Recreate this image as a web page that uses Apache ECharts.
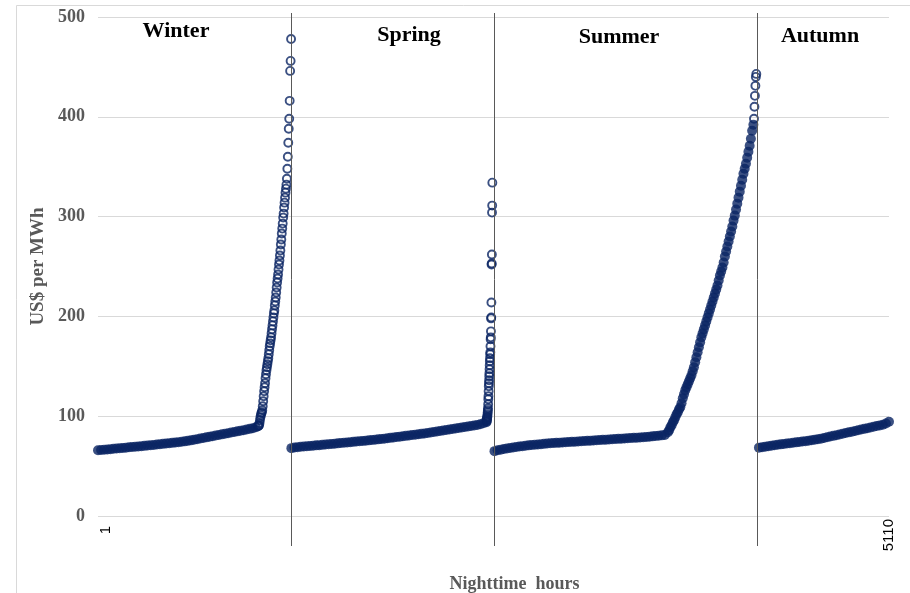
<!DOCTYPE html>
<html>
<head>
<meta charset="utf-8">
<script src="https://cdn.jsdelivr.net/npm/echarts@6/dist/echarts.min.js"></script>
<style>
  html, body { margin: 0; padding: 0; background: #fff; }
  #chart { width: 910px; height: 593px; }
</style>
</head>
<body>
<div id="chart"></div>
<script>
// Seasons and the last nighttime hour of each of the first three
const seasonNames = ['Winter', 'Spring', 'Summer', 'Autumn'];
const seasonBounds = [1249, 2561, 4256];
const xTickLabels = [1, 5110];
const yMin = 0, yMax = 500, yStep = 100;

// Sorted nighttime prices (US$ per MWh) per season.
// "Base" arrays are sampled every 20 h; peak arrays use finer hour steps.
const winterStart = 1, winterBaseStep = 20;
const winterBase = [
  65.8, 66.1, 66.4, 66.7, 67.0, 67.3, 67.6, 67.9, 68.2, 68.5,
  68.8, 69.1, 69.4, 69.7, 70.0, 70.3, 70.6, 70.9, 71.2, 71.6,
  72.0, 72.3, 72.6, 73.0, 73.3, 73.7, 74.0, 74.4, 74.8, 75.3,
  75.8, 76.4, 77.0, 77.6, 78.2, 78.8, 79.4, 80.0, 80.6, 81.2,
  81.8, 82.4, 83.0, 83.6, 84.2, 84.8, 85.4, 86.0, 86.6, 87.3,
  88.0, 89.0
];
const winterPeakStart = 1035, winterPeakStep = 3;
const winterPeak = [
  90, 90.5, 91, 93, 96, 99, 101, 103, 104, 106,
  110, 115, 120, 125, 129, 133, 138, 142, 146, 149,
  152, 155, 158, 162, 166, 170, 173, 176, 179, 183,
  187, 191, 195, 199, 203, 206, 211, 215, 219, 224,
  229, 234, 238, 242, 247, 252, 256, 261, 266, 272,
  277, 283, 288, 293, 299, 303, 309, 314, 319, 324,
  328, 332, 338, 348, 360, 374, 388, 398, 416, 446,
  456, 478
];

const springStart = 1250, springBaseStep = 20;
const springBase = [
  68.0, 68.6, 69.0, 69.3, 69.6, 69.9, 70.2, 70.5, 70.8, 71.0,
  71.3, 71.6, 71.9, 72.2, 72.5, 72.8, 73.1, 73.4, 73.7, 74.0,
  74.3, 74.6, 74.9, 75.2, 75.5, 75.8, 76.1, 76.4, 76.8, 77.1,
  77.5, 77.9, 78.3, 78.7, 79.1, 79.5, 79.9, 80.3, 80.7, 81.1,
  81.5, 81.9, 82.3, 82.7, 83.1, 83.6, 84.1, 84.6, 85.1, 85.6,
  86.1, 86.6, 87.1, 87.6, 88.1, 88.6, 89.1, 89.6, 90.1, 90.7,
  91.3, 92.0, 92.9, 94.0
];
const springPeakStart = 2511, springPeakStep = 1;
const springPeak = [
  95, 96, 97, 98, 99, 100, 102, 104, 106, 108,
  112, 117, 120, 125, 130, 133, 136, 140, 143, 147,
  151, 155, 158, 162, 164, 170, 177, 179, 185, 198,
  199, 214, 252, 253, 262, 304, 311, 334
];

const summerStart = 2562, summerBaseStep = 20;
const summerBase = [
  65.0, 65.8, 66.5, 67.1, 67.7, 68.2, 68.7, 69.2, 69.6, 70.0,
  70.4, 70.8, 71.1, 71.4, 71.7, 72.0, 72.3, 72.6, 72.9, 73.1,
  73.3, 73.5, 73.7, 73.9, 74.1, 74.3, 74.5, 74.7, 74.9, 75.1,
  75.3, 75.5, 75.7, 75.9, 76.1, 76.3, 76.5, 76.7, 76.9, 77.1,
  77.3, 77.5, 77.7, 77.9, 78.1, 78.3, 78.5, 78.7, 78.9, 79.2,
  79.5, 79.8, 80.1, 80.4, 80.8, 81.2
];
const summerPeakStart = 3682, summerPeakStep = 8;
const summerPeak = [
  84, 86, 89, 91, 94, 96, 99, 102, 104, 107,
  109, 113, 118, 122, 126, 129, 132, 135, 138, 141,
  145, 149, 154, 159, 164, 169, 174, 179, 183, 187,
  191, 195, 199, 203, 207, 211, 215, 219, 223, 227,
  231, 236, 241, 245, 249, 254, 260, 265, 270, 275,
  280, 285, 290, 296, 301, 307, 313, 319, 325, 331,
  337, 343, 348, 353, 359, 365, 371, 378, 386, 392
];
const summerTopStart = 4238, summerTopStep = 3;
const summerTop = [398, 410, 421, 431, 440, 443];

const autumnStart = 4270, autumnBaseStep = 20;
const autumnBase = [
  68.5, 69.0, 69.5, 70.0, 70.5, 71.0, 71.4, 71.8, 72.2, 72.6,
  73.0, 73.4, 73.8, 74.2, 74.6, 75.0, 75.5, 76.0, 76.5, 77.0,
  77.5, 78.2, 78.9, 79.6, 80.3, 81.0, 81.7, 82.4, 83.1, 83.8,
  84.5, 85.2, 85.9, 86.6, 87.3, 88.0, 88.7, 89.4, 90.1, 90.8,
  91.5, 92.6, 94.5
];

// Pair each price with its hour index on the x axis
function toPoints(start, step, values) {
  return values.map((v, i) => [start + i * step, v]);
}

const serif = '"Liberation Serif", "Times New Roman", serif';
const sans = '"Liberation Sans", Arial, sans-serif';
const gray = '#595959';
const navy = '#0a2463';

// Dense stretches: the overlapping markers merge into a solid band
const denseStyle = { color: navy, borderColor: navy, borderWidth: 0 };
// Sparse stretches: individual hollow markers
const hollowStyle = { color: 'rgba(255,255,255,0)', borderColor: navy, borderWidth: 1.9 };

const parts = [
  { data: toPoints(winterStart, winterBaseStep, winterBase), dense: true },
  { data: toPoints(winterPeakStart, winterPeakStep, winterPeak), dense: false },
  { data: toPoints(springStart, springBaseStep, springBase), dense: true },
  { data: toPoints(springPeakStart, springPeakStep, springPeak), dense: false },
  { data: toPoints(summerStart, summerBaseStep, summerBase), dense: true },
  { data: toPoints(summerPeakStart, summerPeakStep, summerPeak), dense: true },
  { data: toPoints(summerTopStart, summerTopStep, summerTop), dense: false },
  { data: toPoints(autumnStart, autumnBaseStep, autumnBase), dense: true }
];

const chart = echarts.init(document.getElementById('chart'), null, { renderer: 'canvas' });

const option = {
  animation: false,
  backgroundColor: '#fff',
  grid: { left: 98, right: 21, top: 17, bottom: 77, outerBoundsMode: 'none' },
  xAxis: {
    type: 'value',
    min: xTickLabels[0],
    max: xTickLabels[1],
    name: 'Nighttime  hours',
    nameLocation: 'middle',
    nameGap: 59,
    nameTextStyle: {
      fontFamily: serif, fontWeight: 'bold', fontSize: 18, color: gray,
      padding: [0, 0, 0, 42]
    },
    axisLine: { show: false },
    axisTick: { show: false },
    splitLine: { show: false },
    axisLabel: {
      customValues: xTickLabels,
      // the first hour label sits a little inside the plot edge
      formatter: v => (v === xTickLabels[0] ? '{first|' + v + '}' : String(v)),
      rich: {
        first: { fontFamily: sans, fontSize: 15, color: '#000', padding: [16, 7, 0, 0] }
      },
      rotate: 90,
      margin: 3,
      fontFamily: sans,
      fontSize: 15,
      color: '#000'
    }
  },
  yAxis: {
    type: 'value',
    min: yMin,
    max: yMax,
    interval: yStep,
    name: 'US$ per MWh',
    nameLocation: 'middle',
    nameGap: 39,
    nameTextStyle: { fontFamily: serif, fontWeight: 'bold', fontSize: 19, color: gray },
    axisLine: { show: false },
    axisTick: { show: false },
    axisLabel: { margin: 13, fontFamily: serif, fontWeight: 'bold', fontSize: 18, color: gray },
    splitLine: { lineStyle: { color: '#d9d9d9', width: 1 } }
  },
  series: parts.map(p => ({
    type: 'scatter',
    data: p.data,
    symbol: 'circle',
    symbolSize: p.dense ? 10 : 8,
    itemStyle: p.dense ? denseStyle : hollowStyle,
    emphasis: { disabled: true }
  }))
};

chart.setOption(option);

// Season dividers (extend slightly past the plot area), season titles and frame
const dividerTop = 13, dividerBottom = 546;
const dividers = seasonBounds.map(b => {
  const x = Math.round(chart.convertToPixel({ xAxisIndex: 0 }, b)) + 0.5;
  return {
    type: 'line',
    shape: { x1: x, y1: dividerTop, x2: x, y2: dividerBottom },
    style: { stroke: '#595959', lineWidth: 1 },
    z: 10
  };
});

const titlePos = [[176, 31], [409, 35], [619, 37], [820, 36]];
const titles = seasonNames.map((name, i) => ({
  type: 'text',
  x: titlePos[i][0],
  y: titlePos[i][1],
  style: {
    text: name,
    fontFamily: serif,
    fontWeight: 'bold',
    fontSize: 22,
    fill: '#000',
    align: 'center',
    verticalAlign: 'middle'
  },
  z: 11
}));

chart.setOption({
  graphic: [
    {
      type: 'rect',
      shape: { x: 16.5, y: 5.5, width: 1000, height: 1000 },
      style: { fill: 'none', stroke: '#d9d9d9', lineWidth: 1 },
      z: 0
    }
  ].concat(dividers, titles)
});
</script>
</body>
</html>
